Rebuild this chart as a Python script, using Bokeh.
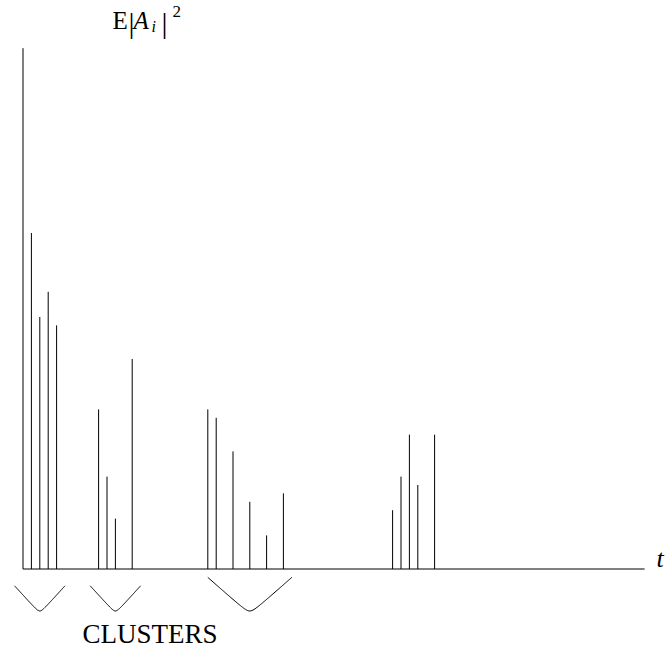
import numpy as np
from bokeh.plotting import figure
from bokeh.models import Range1d, Label
from bokeh.embed import file_html
from bokeh.resources import INLINE

# ---- data (time slots and mean-square amplitudes) ----
times = [1, 2, 3, 4, 9, 10, 11, 13, 22, 23, 25, 27, 29, 31, 44, 45, 46, 47, 49]
power = [40, 30, 33, 29, 19, 11, 6, 25, 19, 18, 14, 8, 4, 9, 7, 11, 16, 10, 16]

# clusters marked with brackets: centre, half-width, top, bottom (data units)
cluster_center = [2, 11, 27]
cluster_half = [3, 3, 5]
cluster_top = [-2, -2, -1]
cluster_bottom = [-5, -5, -5]

x_axis_len = 74
y_axis_len = 62

# ---- layout helpers (page pixel -> data) ----
S = 8.4                # pixels per data unit
X0, Y0 = 22.5, 568.5   # page pixel of the origin
W, H = 668, 649
OX, OY = 0, 0          # page offset of the figure
BASE_SHIFT = 9         # rendered baseline sits this many px below the anchor


def dx(px):
    return (px - X0) / S


def dy(py):
    return (Y0 - py) / S


p = figure(width=W, height=H, output_backend="svg", toolbar_location=None,
           x_range=Range1d(dx(OX), dx(OX + W)), y_range=Range1d(dy(OY + H), dy(OY)),
           x_axis_location=None, y_axis_location=None, min_border=0,
           background_fill_color="white", border_fill_color="white")
p.outline_line_color = None
p.xgrid.visible = False
p.ygrid.visible = False

# axes
p.segment(x0=[0, 0], y0=[0, 0], x1=[x_axis_len, 0], y1=[0, y_axis_len],
          line_color="black", line_width=1)

# spikes
p.segment(x0=times, y0=[0] * len(times), x1=times, y1=power,
          line_color="black", line_width=1)

# cluster brackets
xs, ys = [], []
for c, hw, top, bot in zip(cluster_center, cluster_half, cluster_top, cluster_bottom):
    u = np.linspace(-1, 1, 81)
    a = 0.1
    f = (np.sqrt(a * a + u * u) - a) / (np.sqrt(a * a + 1) - a)
    xs.append(list(c + hw * u))
    ys.append(list(bot + (top - bot) * f))
p.multi_line(xs=xs, ys=ys, line_color="black", line_width=1)

FONT = "Liberation Serif"


def lab(text, px, py, size, style="normal"):
    p.add_layout(Label(x=dx(px), y=dy(py - BASE_SHIFT), text=text, text_font=FONT,
                       text_font_size=f"{size}px", text_font_style=style,
                       text_color="black", text_baseline="alphabetic",
                       text_align="left"))


# y label  E|A_i|^2
lab("E", 112, 29, 25)
lab("|", 128, 31, 30)
lab("A", 133, 29, 25, "italic")
lab("i", 151, 35, 16, "italic")
lab("|", 161, 31, 30)
lab("2", 172, 20, 17)

# x label
lab("t", 656, 567, 26, "italic")

# cluster caption
lab("CLUSTERS", 82, 642, 27)

open("out.html", "w").write(file_html(p, INLINE))
